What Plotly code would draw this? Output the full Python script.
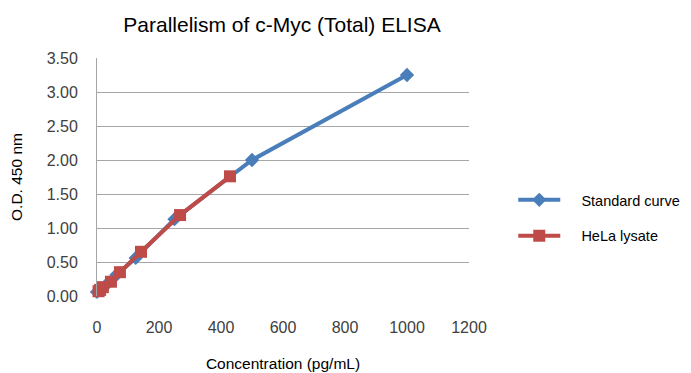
import plotly.graph_objects as go

std_conc = [0, 15.6, 31.25, 62.5, 125, 250, 500, 1000]
std_od = [0.06, 0.10, 0.17, 0.31, 0.56, 1.13, 2.00, 3.25]

hela_conc = [5, 10, 19, 45, 74, 142, 268, 429]
hela_od = [0.07, 0.09, 0.13, 0.21, 0.35, 0.65, 1.19, 1.76]

y_ticks = [0, 0.5, 1.0, 1.5, 2.0, 2.5, 3.0, 3.5]
x_ticks = [0, 200, 400, 600, 800, 1000, 1200]

BLUE = "#4a7ebb"
RED = "#be4b48"
FONT = "Liberation Sans, Arial, sans-serif"

fig = go.Figure()
fig.add_trace(go.Scatter(
    x=std_conc, y=std_od, mode="lines+markers", name="    Standard curve",
    legendgroup="a",
    line=dict(color=BLUE, width=4),
    marker=dict(symbol="diamond", size=11, color=BLUE),
    cliponaxis=False,
))
fig.add_trace(go.Scatter(
    x=hela_conc, y=hela_od, mode="lines+markers", name="    HeLa lysate",
    legendgroup="b",
    line=dict(color=RED, width=4),
    marker=dict(symbol="square", size=12, color=RED),
    cliponaxis=False,
))

fig.update_layout(
    width=691, height=373,
    margin=dict(l=89, r=230, t=50, b=85, autoexpand=False),
    paper_bgcolor="white", plot_bgcolor="white",
    title=dict(text="Parallelism of c-Myc (Total) ELISA", x=274/691, xanchor="center",
               y=1 - 17/373, yanchor="middle",
               font=dict(family=FONT, size=21, color="#000000")),
    font=dict(family=FONT, color="#404040"),
    legend=dict(x=1.119, y=0.328, xanchor="left", yanchor="middle",
                font=dict(family=FONT, size=14.5, color="#000000"),
                itemwidth=42, tracegroupgap=14, bgcolor="rgba(0,0,0,0)"),
    xaxis=dict(range=[0, 1200], tickvals=x_ticks, ticktext=[str(v) for v in x_ticks],
               showgrid=False, zeroline=False, showline=False, automargin=False,
               ticks="", ticklabelstandoff=20,
               tickfont=dict(family=FONT, size=16, color="#404040"),
               title=dict(text="Concentration (pg/mL)", standoff=23,
                          font=dict(family=FONT, size=15.5, color="#000000"))),
    yaxis=dict(range=[0, 3.5], tickvals=y_ticks, ticktext=[f"{v:.2f}" for v in y_ticks],
               showgrid=True, gridcolor="#a6a6a6", gridwidth=1, automargin=False,
               zeroline=False, showline=True, linecolor="#a6a6a6", linewidth=1,
               ticks="", ticklabelstandoff=15,
               tickfont=dict(family=FONT, size=16, color="#404040"),
               title=dict(text="O.D. 450 nm", standoff=21,
                          font=dict(family=FONT, size=15.5, color="#000000"))),
)

fig.write_html("out.html")
